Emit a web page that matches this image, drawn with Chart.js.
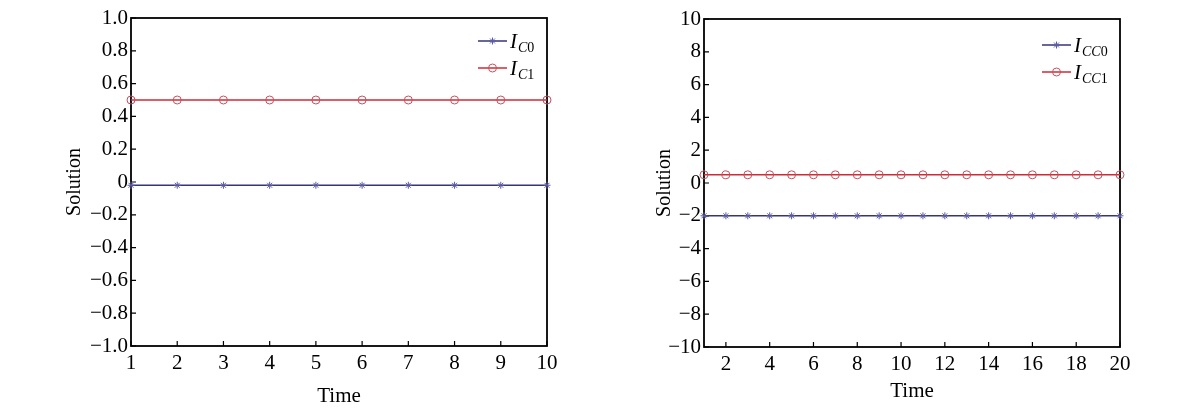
<!DOCTYPE html>
<html>
<head>
<meta charset="utf-8">
<script src="https://cdn.jsdelivr.net/npm/chart.js@4.4.1/dist/chart.umd.min.js"></script>
<style>
  html, body { margin: 0; padding: 0; background: #fff; }
  #wrap { position: relative; width: 1200px; height: 412px; }
  .panel { position: absolute; top: 0; width: 600px; height: 412px; }
</style>
</head>
<body>
<div id="wrap">
  <div class="panel" style="left:0"><canvas id="leftChart"></canvas></div>
  <div class="panel" style="left:600px"><canvas id="rightChart"></canvas></div>
</div>
<script>
// left panel data
const timeLeft = [1, 2, 3, 4, 5, 6, 7, 8, 9, 10]
const iC0 = [-0.02, -0.02, -0.02, -0.02, -0.02, -0.02, -0.02, -0.02, -0.02, -0.02]
const iC1 = [0.5, 0.5, 0.5, 0.5, 0.5, 0.5, 0.5, 0.5, 0.5, 0.5]
const leftXTicks = [1, 2, 3, 4, 5, 6, 7, 8, 9, 10]
const leftYTicks = [-1, -0.8, -0.6, -0.4, -0.2, 0, 0.2, 0.4, 0.6, 0.8, 1]

// right panel data
const timeRight = [1, 2, 3, 4, 5, 6, 7, 8, 9, 10, 11, 12, 13, 14, 15, 16, 17, 18, 19, 20]
const iCC0 = [-2, -2, -2, -2, -2, -2, -2, -2, -2, -2, -2, -2, -2, -2, -2, -2, -2, -2, -2, -2]
const iCC1 = [0.5, 0.5, 0.5, 0.5, 0.5, 0.5, 0.5, 0.5, 0.5, 0.5, 0.5, 0.5, 0.5, 0.5, 0.5, 0.5, 0.5, 0.5, 0.5, 0.5]
const rightXTicks = [2, 4, 6, 8, 10, 12, 14, 16, 18, 20]
const rightYTicks = [-10, -8, -6, -4, -2, 0, 2, 4, 6, 8, 10]

const FONT = 'Liberation Serif, Times New Roman, serif'
const BLUE = '#35357e'
const BLUE_MARK = '#5c5ca4'
const RED = '#d02a36'
const RED_MARK = '#c4505c'

function minusLabel(v, digits) {
  if (v === 0) return '0'
  const s = Math.abs(v).toFixed(digits)
  return v < 0 ? '\u2212' + s : s
}

function drawMarker(ctx, style, x, y, color) {
  ctx.save()
  ctx.strokeStyle = color
  ctx.lineWidth = 1
  ctx.beginPath()
  if (style === 'circle') {
    ctx.arc(x, y, 4, 0, Math.PI * 2)
  } else {
    const r = 3.5
    for (let a = 0; a < 4; a++) {
      const t = a * Math.PI / 4
      ctx.moveTo(x - r * Math.cos(t), y - r * Math.sin(t))
      ctx.lineTo(x + r * Math.cos(t), y + r * Math.sin(t))
    }
  }
  ctx.stroke()
  ctx.restore()
}

// box round the plot + inward tick marks
const framePlugin = {
  id: 'frame',
  beforeDatasetsDraw(chart) {
    const { ctx, chartArea: a, scales } = chart
    ctx.save()
    ctx.strokeStyle = '#000'
    ctx.lineWidth = 1.8
    ctx.strokeRect(a.left, a.top, a.right - a.left, a.bottom - a.top)
    ctx.lineWidth = 1.2
    ctx.beginPath()
    scales.x.ticks.forEach(t => {
      const px = scales.x.getPixelForValue(t.value)
      ctx.moveTo(px, a.bottom)
      ctx.lineTo(px, a.bottom - 5)
    })
    scales.y.ticks.forEach(t => {
      const py = scales.y.getPixelForValue(t.value)
      ctx.moveTo(a.left, py)
      ctx.lineTo(a.left + 5, py)
    })
    ctx.stroke()
    ctx.restore()
  }
}

// legend with subscripts
const subLegendPlugin = {
  id: 'subLegend',
  afterDraw(chart, args, opts) {
    const { ctx } = chart
    opts.items.forEach((item, i) => {
      const y = opts.y + i * opts.rowGap
      ctx.save()
      ctx.strokeStyle = item.line
      ctx.lineWidth = 1.5
      ctx.beginPath()
      ctx.moveTo(opts.x, y)
      ctx.lineTo(opts.x + 29, y)
      ctx.stroke()
      ctx.restore()
      drawMarker(ctx, item.marker, opts.x + 14.5, y, item.markColor)

      ctx.save()
      ctx.fillStyle = '#000'
      ctx.textBaseline = 'alphabetic'
      let tx = opts.x + 32
      ctx.font = 'italic 21px ' + FONT
      ctx.fillText('I', tx, y + 7)
      tx += ctx.measureText('I').width + 1
      ctx.font = 'italic 14px ' + FONT
      ctx.fillText(item.subItalic, tx, y + 11)
      tx += ctx.measureText(item.subItalic).width
      ctx.font = '14px ' + FONT
      ctx.fillText(item.subDigit, tx, y + 11)
      ctx.restore()
    })
  }
}

function makeChart(id, cfg) {
  const xValues = cfg.time
  return new Chart(document.getElementById(id), {
    type: 'line',
    data: {
      datasets: [
        {
          data: xValues.map((t, i) => ({ x: t, y: cfg.s0[i] })),
          borderColor: BLUE,
          borderWidth: 1.6,
          pointStyle: 'star',
          pointRadius: 3.5,
          pointBorderColor: BLUE_MARK,
          pointBorderWidth: 1,
          pointBackgroundColor: 'transparent',
          tension: 0,
          clip: false,
        },
        {
          data: xValues.map((t, i) => ({ x: t, y: cfg.s1[i] })),
          borderColor: RED,
          borderWidth: 1.6,
          pointStyle: 'circle',
          pointRadius: 4,
          pointBorderColor: RED_MARK,
          pointBorderWidth: 1,
          pointBackgroundColor: 'transparent',
          tension: 0,
          clip: false,
        },
      ],
    },
    options: {
      responsive: true,
      maintainAspectRatio: false,
      animation: false,
      layout: { padding: cfg.padding },
      scales: {
        x: {
          type: 'linear',
          min: cfg.xMin,
          max: cfg.xMax,
          grid: { display: false, drawTicks: false, tickLength: 0 },
          border: { display: false },
          afterBuildTicks: s => { s.ticks = cfg.xTicks.map(v => ({ value: v })) },
          afterFit: s => { s.height = cfg.xHeight },
          ticks: {
            color: '#000',
            padding: 5,
            maxRotation: 0,
            autoSkip: false,
            font: { family: FONT, size: 21 },
            callback: v => String(v),
          },
          title: {
            display: true,
            text: 'Time',
            color: '#000',
            font: { family: FONT, size: 21 },
            padding: { top: 0, bottom: cfg.xTitlePad },
          },
        },
        y: {
          type: 'linear',
          min: cfg.yMin,
          max: cfg.yMax,
          grid: { display: false, drawTicks: false, tickLength: 0 },
          border: { display: false },
          afterBuildTicks: s => { s.ticks = cfg.yTicks.map(v => ({ value: v })) },
          afterFit: s => { s.width = cfg.yWidth },
          ticks: {
            color: '#000',
            padding: 3,
            autoSkip: false,
            font: { family: FONT, size: 21 },
            callback: v => minusLabel(v, cfg.yDigits),
          },
          title: {
            display: true,
            text: 'Solution',
            color: '#000',
            font: { family: FONT, size: 20 },
            padding: { top: cfg.yTitlePad, bottom: 0 },
          },
        },
      },
      plugins: {
        legend: { display: false },
        tooltip: { enabled: false },
        subLegend: cfg.legend,
      },
    },
    plugins: [framePlugin, subLegendPlugin],
  })
}

makeChart('leftChart', {
  time: timeLeft, s0: iC0, s1: iC1,
  xMin: 1, xMax: 10, xTicks: leftXTicks,
  yMin: -1, yMax: 1, yTicks: leftYTicks, yDigits: 1,
  padding: { left: 0, right: 53, top: 18, bottom: 0 },
  yWidth: 131, xHeight: 66, xTitlePad: 3, yTitlePad: 63,
  legend: {
    x: 478, y: 41, rowGap: 27,
    items: [
      { line: BLUE, marker: 'star', markColor: BLUE_MARK, subItalic: 'C', subDigit: '0' },
      { line: RED, marker: 'circle', markColor: RED_MARK, subItalic: 'C', subDigit: '1' },
    ],
  },
})

makeChart('rightChart', {
  time: timeRight, s0: iCC0, s1: iCC1,
  xMin: 1, xMax: 20, xTicks: rightXTicks,
  yMin: -10, yMax: 10, yTicks: rightYTicks, yDigits: 0,
  padding: { left: 0, right: 80, top: 19, bottom: 0 },
  yWidth: 104, xHeight: 65, xTitlePad: 8, yTitlePad: 53,
  legend: {
    x: 442, y: 45, rowGap: 27,
    items: [
      { line: BLUE, marker: 'star', markColor: BLUE_MARK, subItalic: 'CC', subDigit: '0' },
      { line: RED, marker: 'circle', markColor: RED_MARK, subItalic: 'CC', subDigit: '1' },
    ],
  },
})
</script>
</body>
</html>
